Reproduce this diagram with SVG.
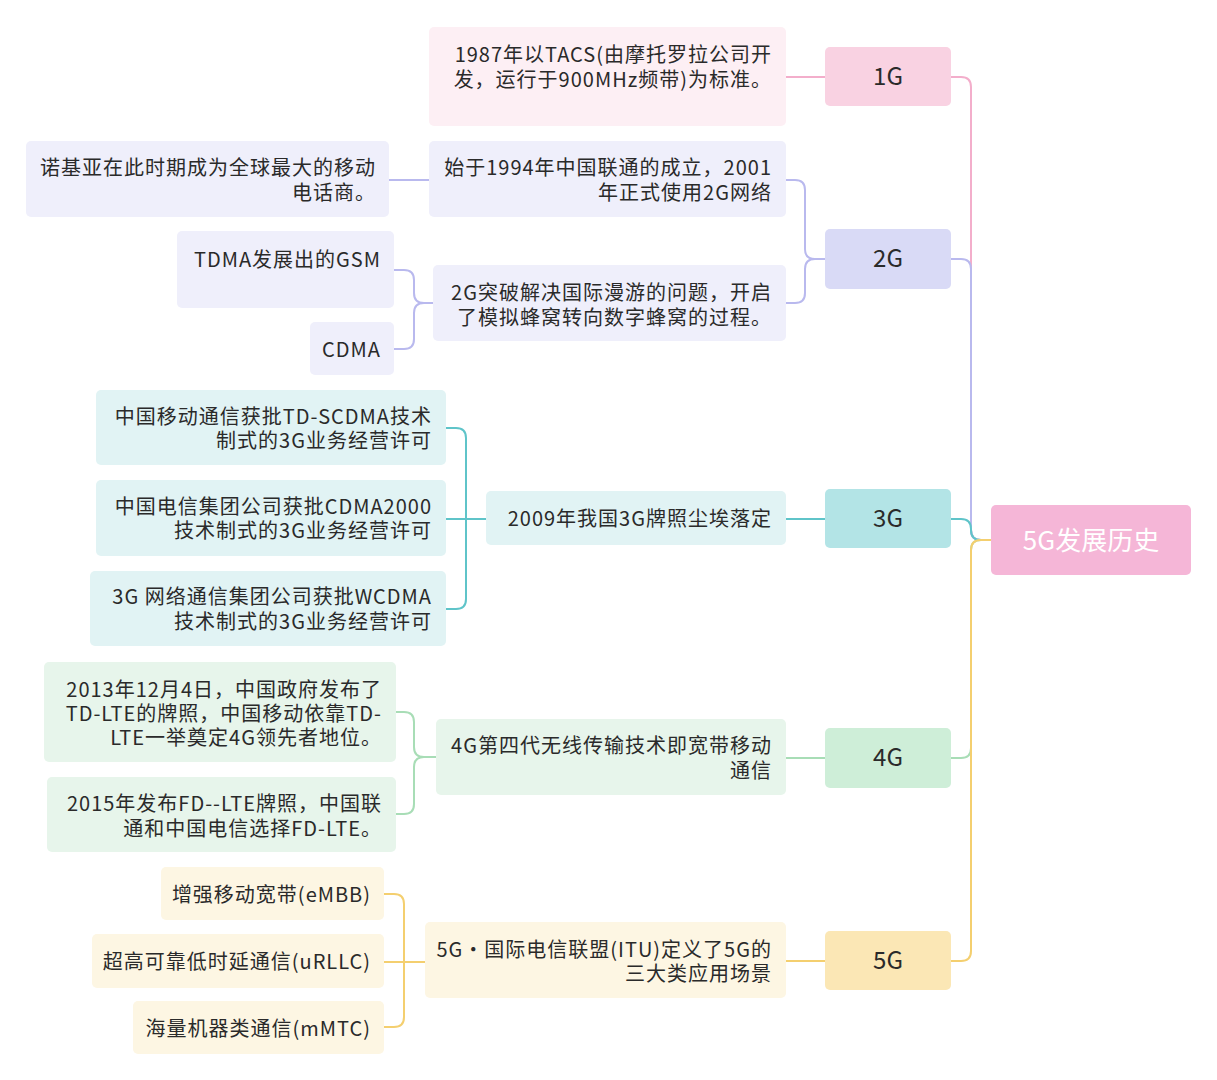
<svg xmlns="http://www.w3.org/2000/svg" width="1217" height="1080" viewBox="0 0 1217 1080">
<style>
text{font-family:"Noto Sans CJK SC","Noto Sans",sans-serif;fill:#2a2a2a;}
.t{font-size:20px;letter-spacing:1px;text-anchor:end;}
.g{font-size:24px;text-anchor:middle;}
.c{fill:none;stroke-width:2;}
.p1{stroke:#F3AECB}.p2{stroke:#B9B9EE}.p3{stroke:#5FC4C9}.p4{stroke:#A8DDB6}.p5{stroke:#F4CF6F}
</style>
<rect width="1217" height="1080" fill="#fff"/>
<g id="connectors">
<path class="c p1" d="M991,540 H981 Q971,540 971,530 V87 Q971,77 961,77 H951"/>
<path class="c p2" d="M991,540 H981 Q971,540 971,530 V269 Q971,259 961,259 H951"/>
<path class="c p3" d="M991,540 H981 Q971,540 971,530 V529 Q971,519 961,519 H951"/>
<path class="c p4" d="M991,540 H981 Q971,540 971,550 V748 Q971,758 961,758 H951"/>
<path class="c p5" d="M991,540 H981 Q971,540 971,550 V951 Q971,961 961,961 H951"/>
<path class="c p1" d="M786,77 H825"/>
<path class="c p2" d="M825,259 H815 Q805,259 805,249 V190 Q805,180 795,180 H786"/>
<path class="c p2" d="M825,259 H815 Q805,259 805,269 V293 Q805,303 795,303 H786"/>
<path class="c p2" d="M429,180 H389"/>
<path class="c p2" d="M433,303 H424 Q414,303 414,293 V280 Q414,270 404,270 H394"/>
<path class="c p2" d="M433,303 H424 Q414,303 414,313 V339 Q414,349 404,349 H394"/>
<path class="c p3" d="M825,519 H786"/>
<path class="c p3" d="M486,519 H446"/>
<path class="c p3" d="M466,519 V438 Q466,428 456,428 H446"/>
<path class="c p3" d="M466,519 V599 Q466,609 456,609 H446"/>
<path class="c p4" d="M825,758 H786"/>
<path class="c p4" d="M436,757 H424 Q414,757 414,747 V722 Q414,712 404,712 H396"/>
<path class="c p4" d="M436,757 H424 Q414,757 414,767 V804 Q414,814 404,814 H396"/>
<path class="c p5" d="M825,961 H786"/>
<path class="c p5" d="M425,962 H384"/>
<path class="c p5" d="M404,962 V904 Q404,894 394,894 H384"/>
<path class="c p5" d="M404,962 V1017 Q404,1027 394,1027 H384"/>
</g>
<g id="root"><rect x="991" y="505" width="200" height="70" rx="5" fill="#F5B6D7"/><text x="1091" y="550" style="font-size:26px;text-anchor:middle;fill:#fff">5G发展历史</text></g>
<g id="g1"><rect x="825" y="47" width="126" height="59" rx="5" fill="#F9D2E2"/><text class="g" x="888" y="85">1G</text></g>
<g id="g2"><rect x="825" y="229" width="126" height="60" rx="5" fill="#D9DAF6"/><text class="g" x="888" y="267">2G</text></g>
<g id="g3"><rect x="825" y="489" width="126" height="59" rx="5" fill="#B3E4E6"/><text class="g" x="888" y="527">3G</text></g>
<g id="g4"><rect x="825" y="728" width="126" height="60" rx="5" fill="#CEEED8"/><text class="g" x="888" y="766">4G</text></g>
<g id="g5"><rect x="825" y="931" width="126" height="59" rx="5" fill="#FBE7B5"/><text class="g" x="888" y="969">5G</text></g>

<g id="n1a"><rect x="429" y="27" width="357" height="99" rx="5" fill="#FDEFF4"/><text class="t"><tspan x="772" y="62">1987年以TACS(由摩托罗拉公司开</tspan><tspan x="772" y="87">发，运行于900MHz频带)为标准。</tspan></text></g>

<g id="n2a"><rect x="429" y="141" width="357" height="76" rx="5" fill="#EFEFFB"/><text class="t"><tspan x="772" y="175">始于1994年中国联通的成立，2001</tspan><tspan x="772" y="200">年正式使用2G网络</tspan></text></g>
<g id="n2a1"><rect x="26" y="141" width="363" height="76" rx="5" fill="#EFEFFB"/><text class="t"><tspan x="376" y="175">诺基亚在此时期成为全球最大的移动</tspan><tspan x="376" y="200">电话商。</tspan></text></g>
<g id="n2b"><rect x="433" y="265" width="353" height="76" rx="5" fill="#EFEFFB"/><text class="t"><tspan x="772" y="300">2G突破解决国际漫游的问题，开启</tspan><tspan x="772" y="325">了模拟蜂窝转向数字蜂窝的过程。</tspan></text></g>
<g id="n2b1"><rect x="177" y="231" width="217" height="77" rx="5" fill="#EFEFFB"/><text class="t" x="381" y="267">TDMA发展出的GSM</text></g>
<g id="n2b2"><rect x="310" y="322" width="84" height="53" rx="5" fill="#EFEFFB"/><text class="t" x="381" y="357">CDMA</text></g>

<g id="n3a"><rect x="486" y="491" width="300" height="54" rx="5" fill="#E1F3F4"/><text class="t" x="772" y="526">2009年我国3G牌照尘埃落定</text></g>
<g id="n3a1"><rect x="96" y="390" width="350" height="75" rx="5" fill="#E1F3F4"/><text class="t"><tspan x="432" y="424">中国移动通信获批TD-SCDMA技术</tspan><tspan x="432" y="448">制式的3G业务经营许可</tspan></text></g>
<g id="n3a2"><rect x="96" y="480" width="350" height="76" rx="5" fill="#E1F3F4"/><text class="t"><tspan x="432" y="514">中国电信集团公司获批CDMA2000</tspan><tspan x="432" y="538">技术制式的3G业务经营许可</tspan></text></g>
<g id="n3a3"><rect x="90" y="571" width="356" height="75" rx="5" fill="#E1F3F4"/><text class="t"><tspan x="432" y="604">3G 网络通信集团公司获批WCDMA</tspan><tspan x="432" y="629">技术制式的3G业务经营许可</tspan></text></g>

<g id="n4a"><rect x="436" y="719" width="350" height="76" rx="5" fill="#E7F5EB"/><text class="t"><tspan x="772" y="753">4G第四代无线传输技术即宽带移动</tspan><tspan x="772" y="778">通信</tspan></text></g>
<g id="n4a1"><rect x="44" y="662" width="352" height="100" rx="5" fill="#E7F5EB"/><text class="t"><tspan x="382" y="697">2013年12月4日，中国政府发布了</tspan><tspan x="382" y="721">TD-LTE的牌照，中国移动依靠TD-</tspan><tspan x="382" y="745">LTE一举奠定4G领先者地位。</tspan></text></g>
<g id="n4a2"><rect x="47" y="777" width="349" height="75" rx="5" fill="#E7F5EB"/><text class="t"><tspan x="382" y="811">2015年发布FD--LTE牌照，中国联</tspan><tspan x="382" y="836">通和中国电信选择FD-LTE。</tspan></text></g>

<g id="n5a"><rect x="425" y="922" width="361" height="76" rx="5" fill="#FDF6E3"/><text class="t"><tspan x="772" y="957">5G·国际电信联盟(ITU)定义了5G的</tspan><tspan x="772" y="981">三大类应用场景</tspan></text></g>
<g id="n5a1"><rect x="161" y="867" width="223" height="53" rx="5" fill="#FDF6E3"/><text class="t" x="371" y="902">增强移动宽带(eMBB)</text></g>
<g id="n5a2"><rect x="92" y="934" width="292" height="54" rx="5" fill="#FDF6E3"/><text class="t" x="371" y="969">超高可靠低时延通信(uRLLC)</text></g>
<g id="n5a3"><rect x="133" y="1001" width="251" height="53" rx="5" fill="#FDF6E3"/><text class="t" x="371" y="1036">海量机器类通信(mMTC)</text></g>
</svg>
